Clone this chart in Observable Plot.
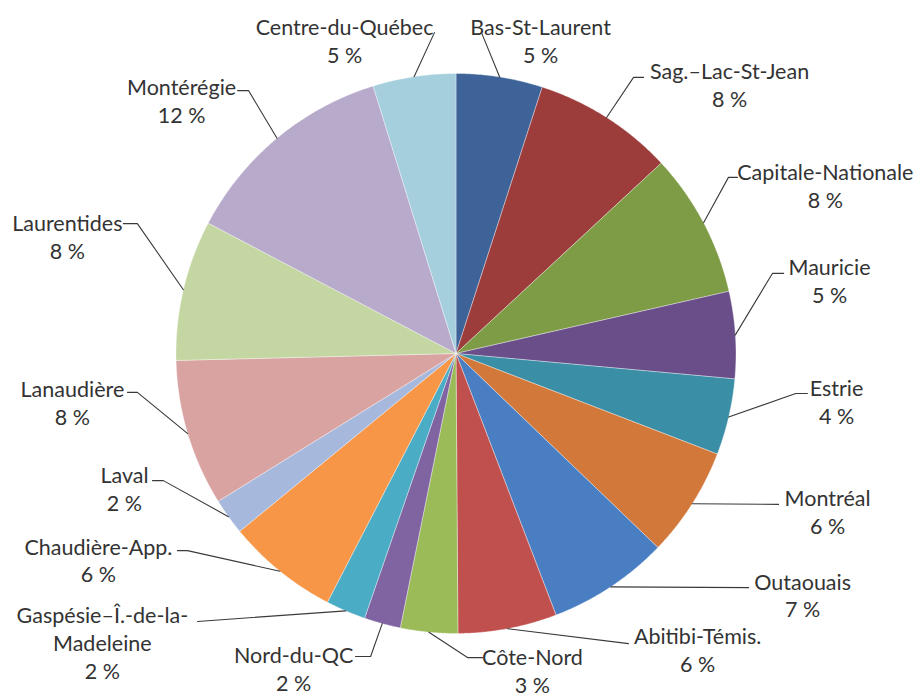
<!DOCTYPE html>
<html>
<head>
<meta charset="utf-8">
<script src="https://cdn.jsdelivr.net/npm/d3@7"></script>
<script src="https://cdn.jsdelivr.net/npm/@observablehq/plot@0.6"></script>
<style>
  html, body { margin: 0; padding: 0; background: #ffffff; }
  #chart svg { display: block; }
</style>
</head>
<body>
<div id="chart"></div>
<script>
// ---- data ----
const regions = ["Bas-St-Laurent", "Sag.–Lac-St-Jean", "Capitale-Nationale", "Mauricie", "Estrie",
  "Montréal", "Outaouais", "Abitibi-Témis.", "Côte-Nord", "Nord-du-QC",
  "Gaspésie–Î.-de-la-Madeleine", "Chaudière-App.", "Laval", "Lanaudière", "Laurentides",
  "Montérégie", "Centre-du-Québec"];
const shares = [4.98, 8.11, 8.33, 5.01, 4.4, 6.33, 7.0, 5.7, 3.3, 2.1, 2.3, 6.45, 2.1, 8.45, 8.1, 12.5, 4.78];
const pctLabels = [5, 8, 8, 5, 4, 6, 7, 6, 3, 2, 2, 6, 2, 8, 8, 12, 5];
const colors = ["#3E6399", "#9C3C3B", "#7E9B45", "#694E8A", "#3A8EA6",
  "#D2783A", "#4A7EC2", "#C0504D", "#9BBB59", "#8064A2",
  "#4BACC6", "#F79646", "#A7B8DD", "#D9A3A2", "#C4D7A2",
  "#B8AACB", "#A6CFDD"];

// ---- label layout, in units of the pie radius (centre = 0,0) ----
const labelPos = [[0.302, 1.121], [0.977, 0.961], [1.319, 0.600], [1.334, 0.261], [1.359, -0.171],
  [1.327, -0.564], [1.238, -0.861], [0.863, -1.057], [0.273, -1.130], [-0.580, -1.125],
  [-1.263, -1.030], [-1.277, -0.736], [-1.184, -0.482], [-1.370, -0.175], [-1.388, 0.418],
  [-0.980, 0.904], [-0.398, 1.121]];
// leader knee point and optional horizontal end x
const leaderKnee = [[0.091, 1.146, null], [0.634, 0.986, 0.670], [0.973, 0.629, 1.005], [1.130, 0.286, 1.170], [1.213, -0.143, 1.255],
  [1.152, -0.539, null], [1.045, -0.836, null], [0.616, -1.036, null], [0.041, -1.086, 0.095], [-0.305, -1.082, -0.359],
  [-0.923, -0.957, null], [-0.959, -0.704, -0.995], [-1.045, -0.454, -1.084], [-1.138, -0.139, -1.173], [-1.138, 0.464, -1.188],
  [-0.741, 0.939, -0.780], [-0.077, 1.146, null]];

const CX = 455.5, CY = 353, R = 280;

const slices = regions.map((name, i) => ({name, value: shares[i], color: colors[i], pct: pctLabels[i], i}));
const arcs = d3.pie().sort(null).value(d => d.value)(slices);

// slice polygons (angles clockwise from 12 o'clock)
const slicePts = [];
arcs.forEach(a => {
  const d = a.data;
  slicePts.push({name: d.name, color: d.color, x: 0, y: 0});
  const n = Math.max(2, Math.ceil((a.endAngle - a.startAngle) / 0.005));
  for (let k = 0; k <= n; k++) {
    const t = a.startAngle + (a.endAngle - a.startAngle) * k / n;
    slicePts.push({name: d.name, color: d.color, x: Math.sin(t), y: Math.cos(t)});
  }
  slicePts.push({name: d.name, color: d.color, x: 0, y: 0});
});

// leader lines
const leaderPts = [];
arcs.forEach((a, i) => {
  const m = (a.startAngle + a.endAngle) / 2;
  const name = a.data.name;
  const [kx, ky, ex] = leaderKnee[i];
  leaderPts.push({name, x: Math.sin(m), y: Math.cos(m)});
  leaderPts.push({name, x: kx, y: ky});
  if (ex !== null) leaderPts.push({name, x: ex, y: ky});
});

// labels
const labels = slices.map((d, i) => ({
  x: labelPos[i][0], y: labelPos[i][1],
  text: d.name.replace("de-la-Madeleine", "de-la-\nMadeleine") + "\n" + d.pct + " %"
}));

const chart = Plot.plot({
  width: 916,
  height: 698,
  margin: 0,
  x: {domain: [-1, 1], range: [CX - R, CX + R], axis: null},
  y: {domain: [-1, 1], range: [CY + R, CY - R], axis: null},
  color: {type: "identity"},
  style: {background: "#ffffff", overflow: "visible"},
  marks: [
    Plot.line(slicePts, {x: "x", y: "y", z: "name", fill: "color", stroke: "#ffffff",
      strokeWidth: 0.6, strokeOpacity: 0.6, curve: "linear"}),
    Plot.line(leaderPts, {x: "x", y: "y", z: "name", stroke: "#3a3a3a", strokeWidth: 1.1, curve: "linear"}),
    Plot.text(labels, {x: "x", y: "y", text: "text", fontSize: 21.5, fontFamily: "Lato",
      fill: "#333333", lineHeight: 1.3, textAnchor: "middle"})
  ]
});
document.getElementById("chart").appendChild(chart);
</script>
</body>
</html>
